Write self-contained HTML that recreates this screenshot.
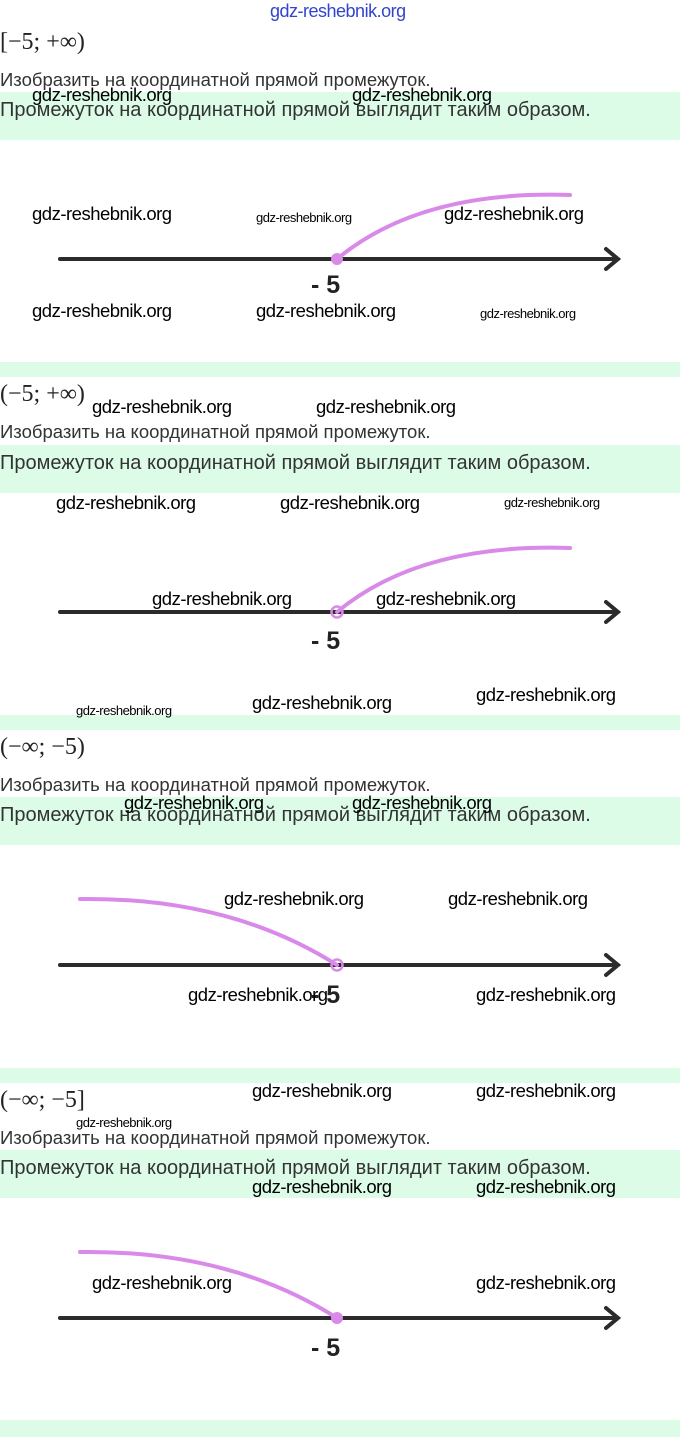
<!DOCTYPE html>
<html><head><meta charset="utf-8"><style>
body{margin:0;width:680px;height:1437px;background:#fff;position:relative;overflow:hidden;font-family:"Liberation Sans",sans-serif}
.g{position:absolute;left:0;width:680px;background:#dcfce8}
.t{position:absolute;left:0;white-space:nowrap;color:#333}
.i{font-size:18.5px;margin-top:-2px}
.p{font-size:20px;margin-top:-3px}
.m{position:absolute;left:0;font-family:"Liberation Serif",serif;font-size:24px;color:#222}
.w{position:absolute;font-family:"Liberation Sans",sans-serif;color:#000;white-space:nowrap;letter-spacing:-0.5px}
.L{font-size:18.5px;margin-top:-2px}.S{font-size:13px;margin-top:-1px}
</style></head><body>
<div class="w" style="left:270px;top:1px;font-size:18px;color:#3344cc">gdz-reshebnik.org</div>

<div class="g" style="top:92px;height:48px"></div><div class="g" style="top:362px;height:15px"></div>
<div class="g" style="top:445px;height:48px"></div><div class="g" style="top:715px;height:15px"></div>
<div class="g" style="top:797px;height:48px"></div><div class="g" style="top:1068px;height:15px"></div>
<div class="g" style="top:1150px;height:48px"></div><div class="g" style="top:1420px;height:17px"></div>

<div class="m" style="top:29px">[−5; +∞)</div>
<div class="t i" style="top:71px">Изобразить на координатной прямой промежуток.</div>
<div class="t p" style="top:102px">Промежуток на координатной прямой выглядит таким образом.</div>

<div class="m" style="top:381px">(−5; +∞)</div>
<div class="t i" style="top:423px">Изобразить на координатной прямой промежуток.</div>
<div class="t p" style="top:455px">Промежуток на координатной прямой выглядит таким образом.</div>

<div class="m" style="top:734px">(−∞; −5)</div>
<div class="t i" style="top:776px">Изобразить на координатной прямой промежуток.</div>
<div class="t p" style="top:807px">Промежуток на координатной прямой выглядит таким образом.</div>

<div class="m" style="top:1087px">(−∞; −5]</div>
<div class="t i" style="top:1129px">Изобразить на координатной прямой промежуток.</div>
<div class="t p" style="top:1160px">Промежуток на координатной прямой выглядит таким образом.</div>

<svg width="680" height="1437" style="position:absolute;left:0;top:0" xmlns="http://www.w3.org/2000/svg">
<g stroke="#2b2b2b" stroke-width="4" stroke-linecap="round" fill="none">
<path d="M60 259H618M606 249L618 259L606 269"/>
<path d="M60 612H618M606 602L618 612L606 622"/>
<path d="M60 965H618M606 955L618 965L606 975"/>
<path d="M60 1318H618M606 1308L618 1318L606 1328"/>
</g>
<g stroke="#d98ae8" stroke-width="4" fill="none" stroke-linecap="round">
<path d="M337 259Q420 190 570 195"/>
<path d="M337 612Q420 543 570 548"/>
<path d="M80 899Q230 897 337 965"/>
<path d="M80 1252Q230 1250 337 1318"/>
</g>
<circle cx="337" cy="259" r="6" fill="#d98ae8"/>
<circle cx="337" cy="612" r="5.5" fill="none" stroke="#d98ae8" stroke-width="2.5"/>
<circle cx="337" cy="965" r="5.5" fill="none" stroke="#d98ae8" stroke-width="2.5"/>
<circle cx="337" cy="1318" r="6" fill="#d98ae8"/>
<g font-family="Liberation Sans,sans-serif" font-size="25" font-weight="bold" fill="#222">
<text x="311" y="293">- 5</text><text x="311" y="649">- 5</text><text x="311" y="1003">- 5</text><text x="311" y="1356">- 5</text>
</g>
</svg>

<div class="w L" style="left:32px;top:86px">gdz-reshebnik.org</div>
<div class="w L" style="left:352px;top:86px">gdz-reshebnik.org</div>
<div class="w L" style="left:32px;top:205px">gdz-reshebnik.org</div>
<div class="w S" style="left:256px;top:211px">gdz-reshebnik.org</div>
<div class="w L" style="left:444px;top:205px">gdz-reshebnik.org</div>
<div class="w L" style="left:32px;top:302px">gdz-reshebnik.org</div>
<div class="w L" style="left:256px;top:302px">gdz-reshebnik.org</div>
<div class="w S" style="left:480px;top:307px">gdz-reshebnik.org</div>

<div class="w L" style="left:92px;top:398px">gdz-reshebnik.org</div>
<div class="w L" style="left:316px;top:398px">gdz-reshebnik.org</div>
<div class="w L" style="left:56px;top:494px">gdz-reshebnik.org</div>
<div class="w L" style="left:280px;top:494px">gdz-reshebnik.org</div>
<div class="w S" style="left:504px;top:496px">gdz-reshebnik.org</div>
<div class="w L" style="left:152px;top:590px">gdz-reshebnik.org</div>
<div class="w L" style="left:376px;top:590px">gdz-reshebnik.org</div>
<div class="w S" style="left:76px;top:704px">gdz-reshebnik.org</div>
<div class="w L" style="left:252px;top:694px">gdz-reshebnik.org</div>
<div class="w L" style="left:476px;top:686px">gdz-reshebnik.org</div>

<div class="w L" style="left:124px;top:794px">gdz-reshebnik.org</div>
<div class="w L" style="left:352px;top:794px">gdz-reshebnik.org</div>
<div class="w L" style="left:224px;top:890px">gdz-reshebnik.org</div>
<div class="w L" style="left:448px;top:890px">gdz-reshebnik.org</div>
<div class="w L" style="left:188px;top:986px">gdz-reshebnik.org</div>
<div class="w L" style="left:476px;top:986px">gdz-reshebnik.org</div>

<div class="w L" style="left:252px;top:1082px">gdz-reshebnik.org</div>
<div class="w L" style="left:476px;top:1082px">gdz-reshebnik.org</div>
<div class="w S" style="left:76px;top:1116px">gdz-reshebnik.org</div>
<div class="w L" style="left:252px;top:1178px">gdz-reshebnik.org</div>
<div class="w L" style="left:476px;top:1178px">gdz-reshebnik.org</div>
<div class="w L" style="left:92px;top:1274px">gdz-reshebnik.org</div>
<div class="w L" style="left:476px;top:1274px">gdz-reshebnik.org</div>
</body></html>
